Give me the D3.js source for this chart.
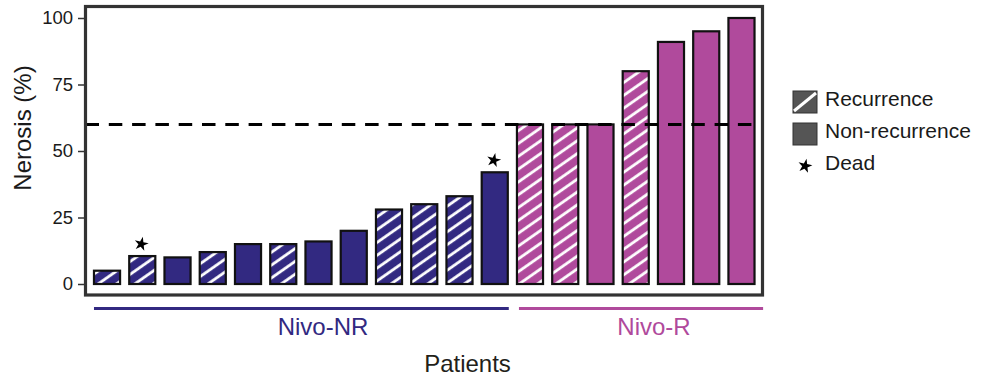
<!DOCTYPE html>
<html><head><meta charset="utf-8">
<script src="https://cdn.jsdelivr.net/npm/d3@7"></script>
<style>html,body{margin:0;padding:0;background:#fff;}svg{display:block;font-family:"Liberation Sans",Arial,sans-serif;}</style>
</head><body>
<svg id="chart" width="984" height="380"></svg>
<script>
// ---- data ----
const patients = d3.range(1, 20).map(i => "P" + i);
const groups = ["Nivo-NR","Nivo-NR","Nivo-NR","Nivo-NR","Nivo-NR","Nivo-NR","Nivo-NR","Nivo-NR","Nivo-NR","Nivo-NR","Nivo-NR","Nivo-NR",
                "Nivo-R","Nivo-R","Nivo-R","Nivo-R","Nivo-R","Nivo-R","Nivo-R"];
const necrosis = [5, 10.5, 10, 12, 15, 15, 16, 20, 28, 30, 33, 42, 60, 60, 60, 80, 91, 95, 100];
const recurrence = [1, 1, 0, 1, 0, 1, 0, 0, 1, 1, 1, 0, 1, 1, 0, 1, 0, 0, 0];
const dead = [0, 1, 0, 0, 0, 0, 0, 0, 0, 0, 0, 1, 0, 0, 0, 0, 0, 0, 0];
const groupNames = ["Nivo-NR", "Nivo-R"];
const yTicks = [0, 25, 50, 75, 100];
const threshold = 60;
const legendLabels = ["Recurrence", "Non-recurrence", "Dead"];

const groupColor = d3.scaleOrdinal().domain(groupNames).range(["#322981", "#b04a9c"]);

const svg = d3.select("#chart");
const panel = {x0: 85.5, y0: 6.5, x1: 762.5, y1: 295};

const x = d3.scaleBand().domain(patients).range([89.4, 759.1]).paddingInner(0.26).paddingOuter(0.13);
const y = d3.scaleLinear().domain([0, 100]).range([284, 18]);

const defs = svg.append("defs");
groupNames.forEach((g, i) => {
  const p = defs.append("pattern").attr("id", "hatch" + i)
    .attr("patternUnits", "userSpaceOnUse").attr("width", 10.5).attr("height", 10.5)
    .attr("patternTransform", "rotate(-35)");
  p.append("rect").attr("width", 10.5).attr("height", 10.5).attr("fill", groupColor(g));
  p.append("rect").attr("x", 0).attr("y", 4).attr("width", 10.5).attr("height", 2.8).attr("fill", "#fff");
});

const data = patients.map((p, i) => ({p, g: groups[i], v: necrosis[i], rec: recurrence[i], dead: dead[i]}));

// bars
svg.append("g").selectAll("rect").data(data).join("rect")
  .attr("x", d => x(d.p)).attr("width", x.bandwidth())
  .attr("y", d => y(d.v)).attr("height", d => y(0) - y(d.v))
  .attr("fill", d => d.rec ? `url(#hatch${groupNames.indexOf(d.g)})` : groupColor(d.g))
  .attr("stroke", "#111").attr("stroke-width", 2.2);

// threshold line
svg.append("line").attr("x1", panel.x0).attr("x2", panel.x1)
  .attr("y1", y(threshold)).attr("y2", y(threshold))
  .attr("stroke", "#000").attr("stroke-width", 3).attr("stroke-dasharray", "13.5,9.8");

// dead stars
const star = d3.symbol().type(d3.symbolStar).size(62);
svg.append("g").selectAll("path").data(data.filter(d => d.dead)).join("path")
  .attr("d", star)
  .attr("transform", d => `translate(${x(d.p) + x.bandwidth() / 2 - 1},${y(d.v) - 12}) rotate(12)`)
  .attr("fill", "#000");

// panel border
svg.append("rect").attr("x", panel.x0).attr("y", panel.y0)
  .attr("width", panel.x1 - panel.x0).attr("height", panel.y1 - panel.y0)
  .attr("fill", "none").attr("stroke", "#333").attr("stroke-width", 3.2);

// y axis
const yAxis = d3.axisLeft(y).tickValues(yTicks).tickSize(6).tickPadding(5);
const ga = svg.append("g").attr("transform", `translate(${panel.x0 - 1.5},0)`).call(yAxis);
ga.select(".domain").remove();
ga.selectAll(".tick line").attr("stroke", "#333").attr("stroke-width", 1.5);
ga.selectAll(".tick text").attr("font-size", 18.5).attr("fill", "#1a1a1a")
  .attr("font-family", "Liberation Sans, Arial, sans-serif");

svg.append("text").attr("transform", "translate(31,128) rotate(-90)")
  .attr("text-anchor", "middle").attr("font-size", 24).attr("fill", "#1a1a1a")
  .text("Nerosis (%)");

// group lines
groupNames.forEach((g, gi) => {
  const members = data.filter(d => d.g === g);
  const first = members[0], last = members[members.length - 1];
  const xs = x(first.p) + (gi === 0 ? 0 : 2);
  const xe = gi === 0 ? x(last.p) + x.bandwidth() + 1 : x.range()[1] + 4;
  svg.append("line").attr("x1", xs).attr("x2", xe).attr("y1", 308.5).attr("y2", 308.5)
    .attr("stroke", groupColor(g)).attr("stroke-width", 3);
});
const groupLabelX = [323, 654];
groupNames.forEach((g, gi) => {
  svg.append("text").attr("x", groupLabelX[gi]).attr("y", 334.5).attr("text-anchor", "middle")
    .attr("font-size", 24).attr("fill", groupColor(g)).text(g);
});

svg.append("text").attr("x", 467.5).attr("y", 372).attr("text-anchor", "middle")
  .attr("font-size", 24).attr("fill", "#231f1a").text("Patients");

// legend
const lg = svg.append("g");
lg.append("rect").attr("x", 793).attr("y", 91).attr("width", 24).attr("height", 22)
  .attr("fill", "#555").attr("stroke", "#333").attr("stroke-width", 1);
lg.append("line").attr("x1", 794).attr("y1", 111).attr("x2", 816).attr("y2", 93)
  .attr("stroke", "#fff").attr("stroke-width", 3);
lg.append("rect").attr("x", 793).attr("y", 123).attr("width", 24).attr("height", 22)
  .attr("fill", "#555").attr("stroke", "#333").attr("stroke-width", 1);
lg.append("path").attr("d", star).attr("transform", "translate(805,166) rotate(12)").attr("fill", "#000");
const legY = [106, 138, 170];
legendLabels.forEach((t, i) => {
  lg.append("text").attr("x", 825).attr("y", legY[i]).attr("font-size", 21).attr("fill", "#1a1a1a").text(t);
});
</script>
</body></html>
